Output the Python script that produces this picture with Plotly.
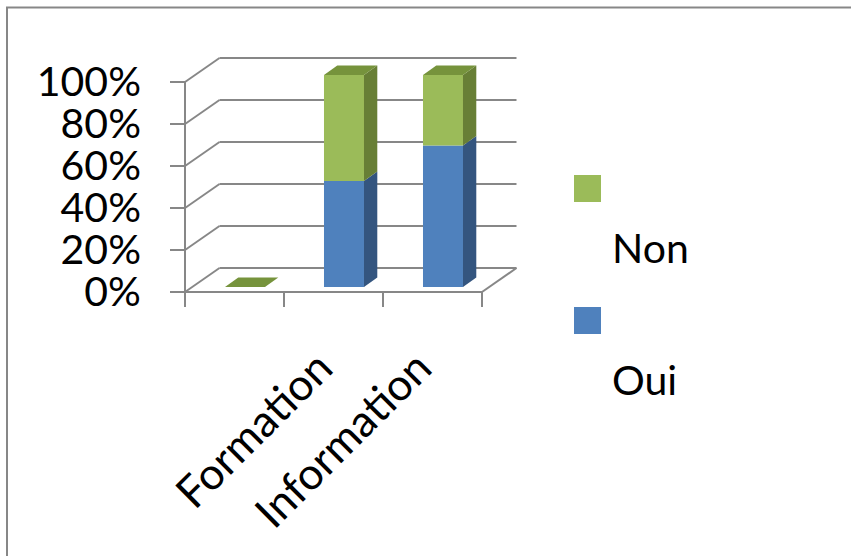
import plotly.graph_objects as go

# ---- data ----
categories = ["", "Formation", "Information"]
oui = [0.0, 50.0, 66.7]      # % of answers "Oui"
non = [0.0, 50.0, 33.3]      # % of answers "Non"
y_ticks = [0, 20, 40, 60, 80, 100]
y_tick_labels = [f"{v}%" for v in y_ticks]

# ---- style ----
BLUE, BLUE_SIDE = "#4F81BD", "#34557F"
GREEN, GREEN_SIDE, GREEN_TOP = "#9BBB59", "#687F36", "#76933C"
GRID = "#878787"
FONT = "Lato"
FS_Y = 41
FS_X = 44
FS_LEG = 41

# ---- page geometry (pixels) ----
W, H = 851, 556
ML, MR, MT, MB = 142, 0, 0, 241
PLOT_W, PLOT_H = W - ML - MR, H - MT - MB

def xp(px):
    return (px - ML) / PLOT_W

def yp(py):
    return (H - MB - py) / PLOT_H

# axis scales: one category = 99 px, 1 % = 2.1 px
CAT_PX, PCT_PX = 99.0, 2.1
FRAME_LEFT_PX, ZERO_PX = 185.0, 292.0
x_range = [0.5 - (FRAME_LEFT_PX - ML) / CAT_PX, 0.5 + (W - MR - FRAME_LEFT_PX) / CAT_PX]
y_range = [-(H - MB - ZERO_PX) / PCT_PX, (ZERO_PX - MT) / PCT_PX]

# oblique depth of the 3-D box and of the bars (data units)
DX, DY = 34.5 / CAT_PX, 24.0 / PCT_PX
BAR_DX, BAR_DY = 13.3 / CAT_PX, 9.5 / PCT_PX
BAR_SHIFT = 0.106            # bar front face shift inside its category
BAR_BASE = 5.0 / PCT_PX      # bar front face sits a little above the floor edge
BAR_W = 40.0 / CAT_PX
BAR_SCALE = 212.0 / 210.0    # slight perspective of the bar plane
TICK_X = 15.0 / CAT_PX
TICK_Y = 15.0 / PCT_PX
n = len(categories)

shapes = []

def line(x0, y0, x1, y1, layer="below"):
    shapes.append(dict(type="line", xref="x", yref="y", x0=x0, y0=y0, x1=x1, y1=y1,
                       line=dict(color=GRID, width=2), layer=layer))

def poly(pts, color, layer="above"):
    path = "M " + " L ".join(f"{x},{y}" for x, y in pts) + " Z"
    shapes.append(dict(type="path", xref="x", yref="y", path=path,
                       fillcolor=color, line=dict(width=0), layer=layer))

# back wall gridlines and side wall diagonals
for v in y_ticks:
    line(0.5 + DX, v + DY, n + 0.5 + DX, v + DY)
    line(0.5, v, 0.5 + DX, v + DY)
# floor
line(0.5, 0, n + 0.5, 0)
line(n + 0.5, 0, n + 0.5 + DX, DY)
# front value axis with its tick marks
line(0.5, 100, 0.5, -TICK_Y)
for v in y_ticks:
    line(0.5 - TICK_X, v, 0.5, v)
# category tick marks
for i in range(n + 1):
    line(0.5 + i, 0, 0.5 + i, -TICK_Y)

# bars
xs = [i + 1 + BAR_SHIFT for i in range(n)]
oui_base = [BAR_BASE] * n
oui_len = [v * BAR_SCALE for v in oui]
non_base = [b + l for b, l in zip(oui_base, oui_len)]
non_len = [v * BAR_SCALE for v in non]

fig = go.Figure()
fig.add_trace(go.Bar(x=xs, y=oui_len, base=oui_base, width=BAR_W, name="Oui",
                     marker=dict(color=BLUE, line=dict(width=0)), showlegend=False))
fig.add_trace(go.Bar(x=xs, y=non_len, base=non_base, width=BAR_W, name="Non",
                     marker=dict(color=GREEN, line=dict(width=0)), showlegend=False))

for x, b0, l0, b1, l1 in zip(xs, oui_base, oui_len, non_base, non_len):
    right = x + BAR_W / 2
    left = x - BAR_W / 2
    for base, length, side in ((b0, l0, BLUE_SIDE), (b1, l1, GREEN_SIDE)):
        if length > 0:
            poly([(right, base), (right + BAR_DX, base + BAR_DY),
                  (right + BAR_DX, base + length + BAR_DY), (right, base + length)], side)
    top = b1 + l1
    poly([(left, top), (right, top), (right + BAR_DX, top + BAR_DY),
          (left + BAR_DX, top + BAR_DY)], GREEN_TOP)

# chart frame
shapes.append(dict(type="line", xref="paper", yref="paper", x0=xp(6), y0=yp(7.5), x1=xp(W + 2), y1=yp(7.5),
                   line=dict(color=GRID, width=2)))
shapes.append(dict(type="line", xref="paper", yref="paper", x0=xp(7), y0=yp(7.5), x1=xp(7), y1=yp(H + 2),
                   line=dict(color=GRID, width=2)))

# legend: square on one line, series name on the next
annotations = []
for name, color, sq_top in (("Non", GREEN, 175), ("Oui", BLUE, 307)):
    shapes.append(dict(type="rect", xref="paper", yref="paper", x0=xp(574), x1=xp(601),
                       y0=yp(sq_top), y1=yp(sq_top + 27), fillcolor=color, line=dict(width=0)))
    annotations.append(dict(xref="paper", yref="paper", x=xp(610), y=yp(sq_top + 72),
                            xanchor="left", yanchor="middle", showarrow=False, text=name,
                            font=dict(family=FONT, size=FS_LEG, color="black")))

fig.update_layout(
    width=W, height=H,
    margin=dict(l=ML, r=MR, t=MT, b=MB, pad=0),
    paper_bgcolor="white", plot_bgcolor="rgba(0,0,0,0)",
    barmode="overlay",
    shapes=shapes, annotations=annotations,
    showlegend=False,
    font=dict(family=FONT, size=FS_Y, color="black"),
    xaxis=dict(range=x_range, showgrid=False, zeroline=False, showline=False,
               tickmode="array", tickvals=[i + 1 for i in range(n)], ticktext=categories,
               tickangle=-45, ticks="", ticklabelstandoff=17, ticklabelshift=-14,
               tickfont=dict(family=FONT, size=FS_X, color="black")),
    yaxis=dict(range=y_range, showgrid=False, zeroline=False, showline=False,
               tickmode="array", tickvals=y_ticks, ticktext=y_tick_labels,
               ticks="", tickfont=dict(family=FONT, size=FS_Y, color="black")),
)

fig.write_html("out.html")
